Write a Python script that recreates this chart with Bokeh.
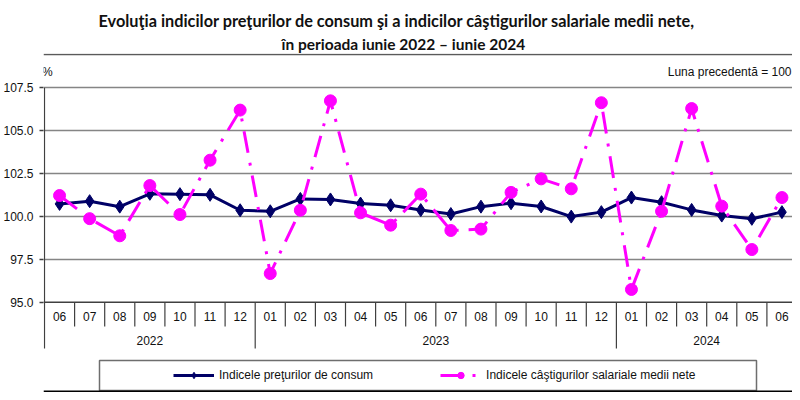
from bokeh.plotting import figure
from bokeh.models import (Range1d, FixedTicker, Span, Legend, LegendItem, Title,
                          ColumnDataSource, PrintfTickFormatter)
from bokeh.core.properties import value
from bokeh.embed import file_html
from bokeh.resources import INLINE

# ---------------- data ----------------
months = ["06", "07", "08", "09", "10", "11", "12",
          "01", "02", "03", "04", "05", "06", "07", "08", "09", "10", "11", "12",
          "01", "02", "03", "04", "05", "06"]
years = ["2022", "2023", "2024"]
months_per_year = [7, 12, 6]

cpi = [100.73, 100.89, 100.57, 101.32, 101.30, 101.26, 100.36,
       100.30, 101.02, 100.99, 100.75, 100.65, 100.37, 100.14, 100.57, 100.77,
       100.58, 99.99, 100.25,
       101.10, 100.83, 100.38, 100.05, 99.86, 100.25]
wages = [101.22, 99.87, 98.87, 101.80, 100.11, 103.28, 106.20,
         96.67, 100.36, 106.74, 100.21, 99.49, 101.30, 99.18, 99.26, 101.40,
         102.19, 101.61, 106.63,
         95.74, 100.30, 106.29, 100.60, 98.07, 101.10]
y_ticks = [95.0, 97.5, 100.0, 102.5, 105.0, 107.5]
grid_ticks = [97.5, 100.0, 102.5, 105.0, 107.5]

title1 = "Evoluţia indicilor preţurilor de consum şi a indicilor câştigurilor salariale medii nete,"
title2 = "în perioada iunie 2022 – iunie 2024"
unit_label = "%"
base_label = "Luna precedentă = 100"
series_names = ["Indicele preţurilor de consum", "Indicele câştigurilor salariale medii nete"]

# ---------------- layout helpers (picture pixels -> data) ----------------
W, H = 792, 392
OFF = 1                # picture px = canvas px + OFF
CAT_PX = 30.1          # width of one month
X0_PX = 45.0           # picture x of first month boundary
Y_REF = 107.5
Y_REF_PX = 88.3        # picture y of 107.5
PX_PER_UNIT = 17.15
FRAME_LEFT_PX = 44
FRAME_TOP_PX = 54


def xv(px):
    return (px - X0_PX) / CAT_PX


def yv(py):
    return Y_REF - (py - Y_REF_PX) / PX_PER_UNIT


AX = "#404040"
FONT = "Liberation Sans"
TXT = "#111111"

p = figure(width=W, height=H, output_backend="svg", toolbar_location=None,
           x_range=Range1d(xv(FRAME_LEFT_PX), xv(W + OFF)),
           y_range=Range1d(yv(H + OFF), yv(FRAME_TOP_PX)),
           x_axis_type=None, title_location=None,
           min_border_left=FRAME_LEFT_PX - OFF, min_border_right=0,
           min_border_top=FRAME_TOP_PX - OFF, min_border_bottom=0)
p.outline_line_color = None
p.xgrid.visible = False
p.ygrid.ticker = FixedTicker(ticks=grid_ticks)
p.ygrid.grid_line_color = "#858585"
p.ygrid.grid_line_width = 1.5

yax = p.yaxis[0]
yax.ticker = FixedTicker(ticks=y_ticks)
yax.formatter = PrintfTickFormatter(format="%.1f")
yax.axis_line_color = None
yax.major_tick_in = 0
yax.major_tick_out = 4
yax.major_tick_line_color = AX
yax.major_tick_line_width = 1.5
yax.minor_tick_line_color = None
yax.major_label_standoff = 6
yax.major_label_text_font = FONT
yax.major_label_text_font_size = "12px"
yax.major_label_text_color = TXT

# titles (line 2 closest to frame)
t2 = Title(text=title2, align="left", offset=238, text_font="Lato", text_font_style="bold",
           text_font_size="15.5px", text_color=TXT, standoff=1)
t1 = Title(text=title1, align="left", offset=55, text_font="Lato", text_font_style="bold",
           text_font_size="16.3px", text_color=TXT, standoff=6)
p.add_layout(t2, "above")
p.add_layout(t1, "above")

# horizontal frame lines
p.add_layout(Span(location=95.0, dimension="width", line_color=AX, line_width=1.5))
p.add_layout(Span(location=yv(55), dimension="width", line_color="#5a5a5a", line_width=1.5))
p.add_layout(Span(location=yv(392), dimension="width", line_color="#000000", line_width=2))

# category separators
year_bounds = []
acc = 0
for n in months_per_year:
    acc += n
    year_bounds.append(acc)
short_x = [b for b in range(1, len(months)) if b not in year_bounds]
long_x = [0] + [b for b in year_bounds if b < len(months)]
p.segment(x0=short_x, x1=short_x, y0=[95.0] * len(short_x), y1=[yv(327)] * len(short_x),
          line_color=AX, line_width=1.2)
p.segment(x0=long_x, x1=long_x, y0=[Y_REF if b == 0 else 95.0 for b in long_x],
          y1=[yv(349)] * len(long_x), line_color=AX, line_width=1.2)

# month labels and year labels
xc = [i + 0.5 for i in range(len(months))]
p.text(x=xc, y=[yv(317)] * len(months), text=months, text_align="center",
       text_baseline="middle", text_font=value(FONT), text_font_size="12px", text_color=TXT)
year_x = []
start = 0
for n in months_per_year:
    year_x.append(start + n / 2)
    start += n
p.text(x=year_x, y=[yv(341)] * len(years), text=years, text_align="center",
       text_baseline="middle", text_font=value(FONT), text_font_size="12px", text_color=TXT)

# unit & base labels
p.text(x=[xv(42.5)], y=[yv(72.5)], text=[unit_label], text_align="left", text_baseline="middle",
       text_font=value(FONT), text_font_size="12px", text_color=TXT)
p.text(x=[xv(W)], y=[yv(72.5)], text=[base_label], text_align="right", text_baseline="middle",
       text_font=value(FONT), text_font_size="12px", text_color=TXT)

# legend box
p.quad(left=[xv(100)], right=[xv(757)], top=[yv(361)], bottom=[yv(391)],
       fill_color="white", line_color="#6e6e6e", line_width=1.5)

# series
src = ColumnDataSource(dict(x=xc, cpi=cpi, wages=wages))
NAVY = "#000066"
MAG = "#FF00FF"
r1 = p.line("x", "cpi", source=src, line_color=NAVY, line_width=3)
r1m = p.scatter("x", "cpi", source=src, marker="diamond", size=13, fill_color=NAVY, line_color=NAVY)
r2 = p.line("x", "wages", source=src, line_color=MAG, line_width=3, line_dash="22 10 3 10")
r2m = p.scatter("x", "wages", source=src, marker="circle", size=12, fill_color=MAG, line_color=MAG)

legend = Legend(items=[LegendItem(label=series_names[0], renderers=[r1, r1m]),
                       LegendItem(label=series_names[1], renderers=[r2, r2m])],
                orientation="horizontal", location=(130, 9),
                border_line_color=None, background_fill_alpha=0, padding=0, margin=0,
                spacing=67, glyph_width=41, glyph_height=16, label_height=16,
                label_standoff=5, label_text_font=FONT, label_text_font_size="12px",
                label_text_color=TXT)
p.add_layout(legend)

open("out.html", "w").write(file_html(p, INLINE))
